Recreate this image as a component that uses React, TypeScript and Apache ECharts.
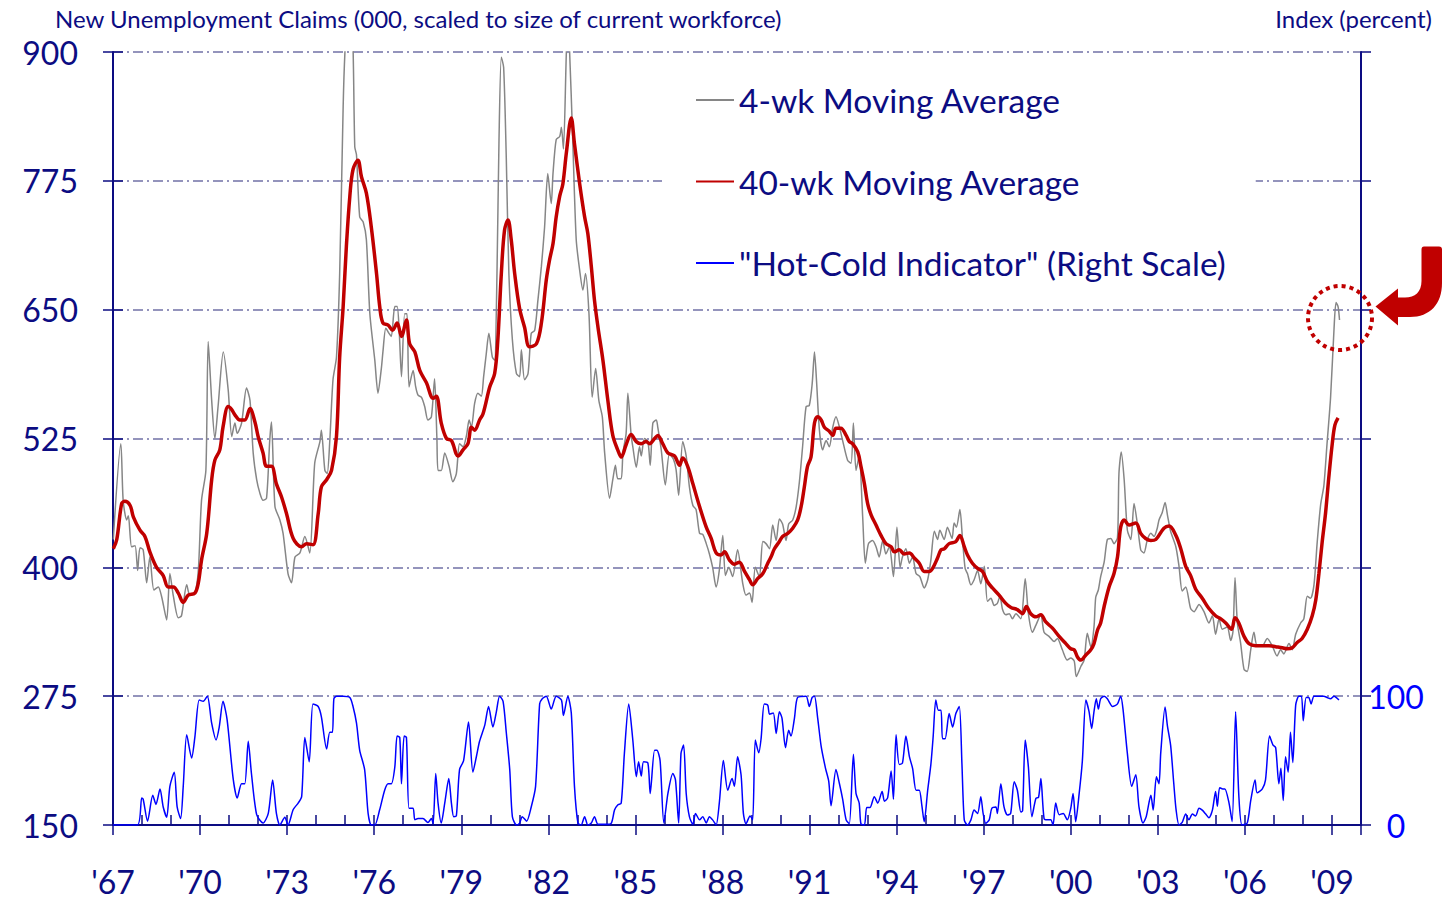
import React, { useEffect, useRef } from 'react';
import * as echarts from 'echarts';

// ---------- DATA ----------
const seriesNames = ['4-wk Moving Average', '40-wk Moving Average', '"Hot-Cold Indicator" (Right Scale)'];
const leftTitle = 'New Unemployment Claims (000, scaled to size of current workforce)';
const rightTitle = 'Index (percent)';

const yearRange = [1967, 2010];
const leftScale = { min: 150, max: 900, interval: 125 };
const rightScale = { min: 0, max: 600, interval: 100 };
const rightLabelMax = 100;

// [year, thousands]
const fourWeekAvg: [number, number][] = [
[1967.01,427],[1967.27,520],[1967.35,465],[1967.47,446],[1967.53,450],[1967.64,420],[1967.76,421],[1967.85,397],[1967.93,419],[1968.04,417],[1968.16,385],[1968.27,410],[1968.41,378],[1968.56,381],[1968.68,371],[1968.85,349],[1968.96,394],[1969.08,372],[1969.25,351],[1969.36,353],[1969.54,383],[1969.65,373],[1969.82,375],[1969.94,397],
[1970.05,465],[1970.20,494],[1970.28,619],[1970.40,562],[1970.51,525],[1970.62,556],[1970.80,609],[1970.97,572],[1971.09,527],[1971.20,540],[1971.28,530],[1971.43,540],[1971.60,574],[1971.72,562],[1971.83,511],[1971.95,485],[1972.06,472],[1972.17,465],[1972.29,467],[1972.40,523],[1972.46,541],[1972.58,459],[1972.75,446],[1972.86,433],
[1973.03,394],[1973.15,385],[1973.27,410],[1973.44,414],[1973.61,430],[1973.78,414],[1973.95,501],[1974.13,522],[1974.18,533],[1974.30,494],[1974.38,491],[1974.47,523],[1974.58,582],[1974.70,604],[1974.81,685],[1974.93,847],[1974.99,899],[1975.06,925],[1975.16,935],[1975.26,915],[1975.33,808],[1975.39,800],[1975.50,740],[1975.62,735],[1975.73,718],[1975.85,646],
[1976.02,601],[1976.13,569],[1976.25,594],[1976.30,609],[1976.40,632],[1976.51,627],[1976.59,624],[1976.71,653],[1976.79,653],[1976.86,630],[1976.94,585],[1977.05,646],[1977.13,646],[1977.20,575],[1977.34,591],[1977.43,575],[1977.51,567],[1977.63,565],[1977.74,556],[1977.85,543],[1977.97,546],[1978.08,583],[1978.16,525],[1978.20,494],[1978.31,494],[1978.43,511],[1978.58,498],[1978.71,483],[1978.83,491],[1978.94,520],
[1979.06,517],[1979.18,528],[1979.27,543],[1979.35,536],[1979.46,559],[1979.57,569],[1979.69,566],[1979.77,585],[1979.86,607],[1979.95,627],[1980.07,604],[1980.15,601],[1980.23,685],[1980.30,815],[1980.38,895],[1980.46,885],[1980.55,798],[1980.64,685],[1980.76,621],[1980.90,588],[1981.01,585],[1981.07,611],[1981.18,582],[1981.30,588],[1981.41,627],[1981.53,630],[1981.64,659],[1981.76,692],[1981.87,730],[1981.98,782],
[1982.10,753],[1982.16,782],[1982.27,815],[1982.39,818],[1982.45,827],[1982.52,806],[1982.62,899],[1982.67,925],[1982.73,902],[1982.84,815],[1982.96,718],[1983.08,688],[1983.19,669],[1983.28,685],[1983.40,646],[1983.51,565],[1983.63,593],[1983.74,562],[1983.86,546],[1983.94,511],
[1984.11,467],[1984.22,485],[1984.31,499],[1984.39,486],[1984.51,486],[1984.57,511],[1984.68,530],[1984.74,569],[1984.85,529],[1984.91,517],[1985.03,497],[1985.14,517],[1985.20,508],[1985.31,525],[1985.43,522],[1985.51,499],[1985.60,540],[1985.72,543],[1985.77,536],[1985.89,514],
[1986.03,480],[1986.17,510],[1986.31,505],[1986.40,495],[1986.49,470],[1986.63,522],[1986.75,508],[1986.86,478],[1986.98,460],[1987.09,456],[1987.21,433],[1987.32,432],[1987.44,423],[1987.55,413],[1987.66,400],[1987.78,381],[1987.89,397],
[1988.01,431],[1988.10,392],[1988.22,400],[1988.35,391],[1988.52,417],[1988.70,384],[1988.81,373],[1988.93,375],[1989.02,366],[1989.13,400],[1989.27,391],[1989.39,425],[1989.50,423],[1989.62,418],[1989.73,441],[1989.85,426],[1989.96,447],
[1990.07,442],[1990.19,426],[1990.28,442],[1990.42,446],[1990.54,459],[1990.65,483],[1990.76,517],[1990.88,556],[1990.99,557],[1991.09,578],[1991.17,609],[1991.24,581],[1991.34,533],[1991.45,514],[1991.57,523],[1991.68,517],[1991.80,536],[1991.91,546],
[1992.03,536],[1992.14,523],[1992.31,504],[1992.43,501],[1992.51,540],[1992.60,494],[1992.71,508],[1992.83,449],[1992.92,404],[1993.03,423],[1993.17,426],[1993.29,420],[1993.40,410],[1993.52,426],[1993.63,413],[1993.75,420],[1993.89,391],
[1994.01,439],[1994.12,400],[1994.20,410],[1994.32,418],[1994.44,404],[1994.55,410],[1994.67,394],[1994.80,391],[1994.95,380],[1995.07,388],[1995.18,407],[1995.30,435],[1995.41,427],[1995.49,436],[1995.64,427],[1995.75,439],[1995.91,428],[1995.98,443],
[1996.06,439],[1996.18,456],[1996.27,427],[1996.36,399],[1996.44,394],[1996.56,383],[1996.67,388],[1996.79,397],[1996.90,384],[1997.02,401],[1997.13,367],[1997.25,370],[1997.36,363],[1997.47,365],[1997.56,372],[1997.65,359],[1997.76,354],[1997.88,355],[1997.99,350],
[1998.11,355],[1998.28,350],[1998.43,389],[1998.54,355],[1998.68,337],[1998.80,344],[1998.97,354],[1999.08,337],[1999.25,333],[1999.43,328],[1999.54,331],[1999.71,320],[1999.88,310],
[2000.00,312],[2000.12,309],[2000.19,294],[2000.35,304],[2000.46,310],[2000.57,336],[2000.69,323],[2000.80,342],[2000.86,371],[2000.95,378],[2001.03,391],[2001.15,405],[2001.26,427],[2001.38,428],[2001.49,423],[2001.61,429],[2001.66,491],[2001.74,512],[2001.84,485],[2001.95,436],
[2002.07,427],[2002.18,462],[2002.29,443],[2002.41,417],[2002.52,414],[2002.64,427],[2002.76,433],[2002.87,430],[2002.98,438],[2003.04,446],[2003.15,453],[2003.25,463],[2003.33,451],[2003.44,435],[2003.62,420],[2003.73,401],[2003.84,377],[2003.96,381],
[2004.13,360],[2004.25,357],[2004.42,364],[2004.59,357],[2004.76,346],[2004.88,353],[2004.99,335],[2005.11,350],[2005.22,340],[2005.39,342],[2005.51,329],[2005.59,338],[2005.66,390],[2005.74,346],[2005.85,327],[2005.97,301],
[2006.08,299],[2006.20,320],[2006.31,337],[2006.42,324],[2006.60,324],[2006.77,331],[2006.94,324],[2007.11,314],[2007.23,320],[2007.34,316],[2007.52,326],[2007.63,320],[2007.75,335],[2007.92,346],
[2008.03,350],[2008.15,372],[2008.26,370],[2008.38,383],[2008.49,424],[2008.61,461],[2008.72,479],[2008.83,520],[2008.95,564],[2009.07,631],[2009.14,657],[2009.21,653],[2009.26,640]
];

// [year, thousands]
const fortyWeekAvg: [number, number][] = [
[1967.01,418],[1967.13,427],[1967.30,462],[1967.41,464],[1967.59,460],[1967.70,449],[1967.93,436],[1968.10,430],[1968.27,415],[1968.50,400],[1968.73,392],[1968.90,381],[1969.08,381],[1969.25,375],[1969.42,366],[1969.59,373],[1969.82,375],[1969.94,385],
[1970.05,407],[1970.23,433],[1970.40,485],[1970.51,504],[1970.68,514],[1970.79,536],[1970.97,556],[1971.09,553],[1971.20,548],[1971.37,543],[1971.54,543],[1971.72,554],[1971.89,541],[1972.00,527],[1972.17,511],[1972.29,498],[1972.46,498],[1972.63,481],[1972.81,468],[1972.98,452],
[1973.21,428],[1973.50,420],[1973.67,423],[1973.89,422],[1974.07,452],[1974.18,478],[1974.36,485],[1974.53,494],[1974.70,527],[1974.81,604],[1974.93,653],[1975.04,711],[1975.16,760],[1975.27,786],[1975.44,795],[1975.56,779],[1975.73,763],[1975.90,730],
[1976.08,685],[1976.19,653],[1976.30,637],[1976.48,635],[1976.63,630],[1976.79,637],[1976.94,624],[1977.11,640],[1977.22,617],[1977.40,609],[1977.57,591],[1977.80,579],[1978.03,564],[1978.14,566],[1978.31,540],[1978.49,525],[1978.66,523],[1978.89,508],
[1979.06,514],[1979.23,520],[1979.35,536],[1979.46,533],[1979.63,543],[1979.75,549],[1979.98,575],[1980.15,588],[1980.26,621],[1980.38,685],[1980.49,727],[1980.61,737],[1980.72,718],[1980.84,685],[1981.01,651],[1981.18,633],[1981.35,614],[1981.59,617],[1981.76,637],[1981.93,679],
[1982.04,698],[1982.16,714],[1982.27,740],[1982.39,760],[1982.50,772],[1982.62,802],[1982.79,836],[1982.90,811],[1983.08,772],[1983.25,740],[1983.36,724],[1983.48,692],[1983.59,659],[1983.71,633],[1983.88,601],
[1984.05,562],[1984.22,528],[1984.39,514],[1984.51,507],[1984.68,519],[1984.85,529],[1985.03,522],[1985.20,520],[1985.37,522],[1985.49,520],[1985.66,525],[1985.77,528],[1985.94,520],
[1986.12,511],[1986.35,508],[1986.52,499],[1986.63,506],[1986.80,498],[1986.98,481],[1987.21,459],[1987.44,439],[1987.61,428],[1987.78,414],[1987.95,412],
[1988.07,415],[1988.24,407],[1988.41,403],[1988.58,405],[1988.76,396],[1988.93,388],[1989.04,383],[1989.21,389],[1989.39,394],[1989.56,404],[1989.67,410],[1989.79,418],[1989.96,425],
[1990.07,430],[1990.25,433],[1990.42,438],[1990.59,446],[1990.71,459],[1990.82,478],[1990.93,498],[1991.05,507],[1991.17,540],[1991.28,546],[1991.40,543],[1991.51,536],[1991.68,532],[1991.80,528],[1991.91,535],
[1992.08,535],[1992.26,528],[1992.37,522],[1992.48,520],[1992.66,512],[1992.77,498],[1992.89,481],[1993.00,462],[1993.12,451],[1993.29,441],[1993.46,431],[1993.63,423],[1993.81,420],[1993.92,415],
[1994.09,417],[1994.26,413],[1994.44,414],[1994.61,409],[1994.78,404],[1994.95,396],[1995.12,396],[1995.24,399],[1995.41,409],[1995.53,417],[1995.64,418],[1995.81,423],
[1996.04,425],[1996.18,431],[1996.33,420],[1996.44,412],[1996.61,404],[1996.79,399],[1996.96,396],[1997.13,386],[1997.30,380],[1997.53,373],[1997.76,365],[1997.94,361],
[1998.16,359],[1998.34,355],[1998.47,362],[1998.62,355],[1998.80,352],[1998.97,354],[1999.14,347],[1999.37,341],[1999.60,333],[1999.83,326],
[2000.00,321],[2000.12,320],[2000.23,313],[2000.35,310],[2000.52,315],[2000.69,320],[2000.80,326],[2000.92,339],[2001.03,346],[2001.15,362],[2001.32,381],[2001.49,394],[2001.61,410],[2001.72,439],[2001.84,446],
[2002.01,441],[2002.24,443],[2002.41,433],[2002.58,428],[2002.76,426],[2002.93,427],[2003.21,438],[2003.39,440],[2003.62,431],[2003.79,418],[2003.96,401],
[2004.13,392],[2004.30,379],[2004.53,370],[2004.76,360],[2004.99,353],[2005.17,350],[2005.34,346],[2005.54,340],[2005.66,351],[2005.79,346],[2005.97,333],
[2006.14,326],[2006.37,324],[2006.60,324],[2006.83,324],[2007.06,323],[2007.29,322],[2007.46,321],[2007.63,322],[2007.80,327],[2007.97,331],
[2008.15,340],[2008.32,353],[2008.44,368],[2008.55,394],[2008.66,424],[2008.78,453],[2008.89,487],[2009.01,520],[2009.10,538],[2009.21,545]
];

// [year, percent]
const hotColdIndicator: [number, number][] = [
[1967.00,0],[1967.84,0],[1967.99,21],[1968.04,20],[1968.19,3],[1968.37,23],[1968.48,16],[1968.62,28],[1968.73,14],[1968.85,6],[1968.96,30],[1969.11,41],[1969.21,14],[1969.33,5],[1969.42,30],[1969.54,70],[1969.71,52],[1969.82,68],[1969.97,97],
[1970.11,96],[1970.25,100],[1970.40,79],[1970.55,66],[1970.66,76],[1970.79,96],[1970.93,82],[1971.14,36],[1971.28,21],[1971.43,32],[1971.54,32],[1971.66,65],[1971.77,40],[1971.95,8],[1972.17,1.5],[1972.35,9],[1972.50,35],[1972.63,9],[1972.75,0],[1972.92,6],
[1973.03,0],[1973.21,12],[1973.38,17],[1973.50,22],[1973.61,68],[1973.76,49],[1973.89,94],[1974.07,92],[1974.18,84],[1974.36,59],[1974.47,72],[1974.56,72],[1974.61,98],[1974.70,100],[1974.93,100],[1975.16,99],[1975.27,92],[1975.39,79],[1975.50,58],[1975.67,43],[1975.79,9],[1975.90,0],
[1976.02,0],[1976.19,12],[1976.36,27],[1976.48,32],[1976.59,32],[1976.71,45],[1976.79,69],[1976.88,68],[1976.94,32],[1977.03,69],[1977.11,68],[1977.20,13],[1977.34,13],[1977.40,4],[1977.51,5],[1977.68,5],[1977.85,2],[1977.97,5],
[1978.03,1],[1978.12,40],[1978.20,17],[1978.31,1.5],[1978.43,17],[1978.57,36],[1978.66,17],[1978.74,6.5],[1978.83,7],[1978.94,43],
[1979.08,50],[1979.25,80],[1979.40,41],[1979.52,53],[1979.63,65],[1979.81,77.5],[1979.94,92],[1980.09,76],[1980.21,88],[1980.32,100],[1980.44,96],[1980.55,72],[1980.67,43],[1980.76,6.5],[1980.90,0],
[1981.01,1.5],[1981.10,6.5],[1981.25,3],[1981.41,14],[1981.56,30],[1981.70,94],[1981.79,98],[1981.93,100],[1982.10,90],[1982.27,100],[1982.45,97],[1982.52,85],[1982.67,100],[1982.79,87],[1982.90,30],
[1983.02,1.5],[1983.13,0],[1983.25,6.5],[1983.36,0],[1983.48,1.5],[1983.59,6.5],[1983.71,0.5],[1983.99,0.5],
[1984.17,1.5],[1984.28,11.6],[1984.39,15.5],[1984.51,17],[1984.62,55.6],[1984.77,94],[1984.91,66],[1985.03,37.5],[1985.11,49],[1985.20,38],[1985.28,49],[1985.43,48],[1985.51,24.5],[1985.66,58],[1985.74,58],[1985.85,50],[1985.98,1.5],
[1986.12,24.5],[1986.29,40],[1986.38,35],[1986.49,1.5],[1986.57,55.6],[1986.66,62],[1986.75,24.5],[1986.86,6.5],[1986.98,0.5],
[1987.07,9],[1987.21,4],[1987.32,6.5],[1987.44,1.5],[1987.55,6.5],[1987.66,4],[1987.78,0],[1987.89,17],
[1988.03,50],[1988.18,27],[1988.33,36],[1988.41,30],[1988.52,53],[1988.64,39],[1988.72,9],[1988.81,1],[1988.95,7],
[1989.04,4],[1989.13,66],[1989.25,56],[1989.33,67],[1989.44,94],[1989.56,93],[1989.62,86],[1989.75,87],[1989.85,71],[1989.96,88],
[1990.05,83],[1990.17,60],[1990.28,73.5],[1990.36,69],[1990.48,83],[1990.59,99],[1990.88,100],[1990.99,92],[1991.09,99],[1991.17,100],[1991.28,83],[1991.40,61],[1991.55,44],[1991.66,34],[1991.74,15],[1991.91,43],
[1992.03,32],[1992.14,20],[1992.26,4],[1992.37,1],[1992.51,55],[1992.60,24.5],[1992.71,17],[1992.77,1],[1992.89,0],[1992.97,13.5],
[1993.08,13.5],[1993.23,22],[1993.35,17],[1993.50,26],[1993.58,18.4],[1993.69,21],[1993.81,42],[1993.89,20],[1993.98,70],
[1994.09,47],[1994.20,48],[1994.32,69],[1994.44,53],[1994.55,44],[1994.67,27],[1994.78,27],[1994.87,15],[1994.95,2.5],
[1995.07,27],[1995.18,47],[1995.26,69],[1995.35,97],[1995.44,89],[1995.53,89],[1995.58,67],[1995.67,67],[1995.81,86.5],[1995.93,76],
[1996.04,86.5],[1996.16,92],[1996.25,47.6],[1996.33,4],[1996.44,0],[1996.56,4],[1996.67,11.6],[1996.79,9],[1996.90,22],[1996.98,9],
[1997.07,1.3],[1997.19,4],[1997.28,13],[1997.42,14],[1997.47,9],[1997.59,32],[1997.70,14],[1997.82,7.7],[1997.93,9],
[1998.05,33.6],[1998.16,27],[1998.28,10],[1998.34,11],[1998.43,66],[1998.54,45],[1998.66,6.5],[1998.80,20.7],[1998.89,21.5],[1998.97,36],
[1999.08,5],[1999.20,4],[1999.31,4],[1999.39,0],[1999.48,17],[1999.60,8],[1999.74,9],[1999.88,4],
[2000.00,13],[2000.08,24.5],[2000.17,2.6],[2000.29,24.5],[2000.40,50],[2000.52,97],[2000.63,88],[2000.72,75],[2000.80,88],[2000.88,98],[2000.95,90],
[2001.03,98],[2001.15,100],[2001.26,98],[2001.44,92],[2001.61,94],[2001.72,100],[2001.80,90],[2001.95,55.6],
[2002.10,30],[2002.24,39],[2002.35,14],[2002.49,1.5],[2002.60,6.5],[2002.76,23],[2002.84,11.6],[2002.95,37.5],
[2003.04,32],[2003.10,56],[2003.25,91.5],[2003.33,77],[2003.44,62],[2003.55,32],[2003.63,11.6],[2003.73,0],[2003.84,2],[2003.96,8.5],
[2004.07,4],[2004.19,8.5],[2004.30,7],[2004.42,13],[2004.53,11.5],[2004.65,8.5],[2004.76,5.6],[2004.88,11.5],[2004.99,26],
[2005.05,14.5],[2005.13,29],[2005.24,28],[2005.31,28],[2005.45,17.4],[2005.56,2.6],[2005.68,88],[2005.79,23],[2005.90,0],
[2006.08,1.5],[2006.20,19],[2006.35,35],[2006.42,25],[2006.60,28],[2006.71,35],[2006.85,69],[2006.97,62],
[2007.06,60],[2007.17,32],[2007.24,44],[2007.32,19],[2007.40,53],[2007.49,41],[2007.57,72],[2007.65,48.5],[2007.75,93],[2007.86,100],[2007.95,100],
[2008.01,81],[2008.11,99],[2008.20,99],[2008.28,94],[2008.38,100],[2008.55,100],[2008.72,100],[2008.83,99],[2008.95,98],[2009.07,100],[2009.24,97]
];

// ---------- STYLE ----------
const FONT = 'Lato, "Open Sans", "Noto Sans", sans-serif';
const NAVY = '#0c0c82';
const GRID_COLOR = '#7272a6';
const ARROW_D =
  'M1424 246.5 L1439 246.5 Q1442 246.5 1442 249.5 L1442 283 C1442 304 1430 317 1410 317 L1398 317 L1398 325.5 L1375.5 306.5 L1398 288.5 L1398 297.5 L1405 297.5 C1415 297.5 1421.5 292 1421.5 281 L1421.5 249.5 Q1421.5 246.5 1424 246.5 Z';

let shapeRegistered = false;

export default function App() {
  const ref = useRef<HTMLDivElement>(null);

  useEffect(() => {
    if (!shapeRegistered) {
      echarts.graphic.registerShape('curvedArrow', echarts.graphic.extendPath(ARROW_D, {}) as any);
      shapeRegistered = true;
    }
    const chart = echarts.init(ref.current as HTMLDivElement, null, { renderer: 'svg' });

    const tickStyle = { color: NAVY, width: 1.5 };

    chart.setOption({
      animation: false,
      backgroundColor: '#ffffff',
      textStyle: { fontFamily: FONT },
      title: [
        {
          text: leftTitle, left: 55, top: 6, padding: 0,
          textStyle: { fontSize: 24, fontWeight: 'normal', color: NAVY, fontFamily: FONT },
        },
        {
          text: rightTitle, right: 21, top: 6, padding: 0,
          textStyle: { fontSize: 24, fontWeight: 'normal', color: NAVY, fontFamily: FONT },
        },
      ],
      grid: { left: 113, right: 92, top: 52, bottom: 80, containLabel: false },
      legend: {
        orient: 'vertical',
        left: 662,
        top: 70,
        padding: [10, 30, 10, 33],
        backgroundColor: '#ffffff',
        itemWidth: 38,
        itemHeight: 14,
        itemGap: 41.5,
        selectedMode: false,
        itemStyle: { opacity: 0 },
        textStyle: { fontSize: 33.5, color: NAVY, lineHeight: 40, fontFamily: FONT },
        data: seriesNames,
      },
      xAxis: [
        {
          type: 'value', position: 'bottom',
          min: yearRange[0], max: yearRange[1], interval: 3,
          axisLine: { show: true, onZero: false, lineStyle: { color: NAVY, width: 2 } },
          axisTick: { show: true, inside: false, length: 10, lineStyle: tickStyle },
          axisLabel: {
            margin: 40, fontSize: 32, color: NAVY, fontFamily: FONT,
            formatter: (v: number) => {
              const d = Math.round(v - yearRange[0]);
              if (d % 3 !== 0 || v >= yearRange[1]) return '';
              return "'" + String(Math.round(v) % 100).padStart(2, '0');
            },
          },
          splitLine: { show: false },
        },
        {
          type: 'value', position: 'bottom',
          min: yearRange[0], max: yearRange[1], interval: 1,
          axisLine: { show: false, onZero: false },
          axisTick: { show: true, inside: true, length: 10, lineStyle: tickStyle },
          axisLabel: { show: false },
          splitLine: { show: false },
        },
      ],
      yAxis: [
        {
          type: 'value', position: 'left',
          min: leftScale.min, max: leftScale.max, interval: leftScale.interval,
          axisLine: { show: true, onZero: false, lineStyle: { color: NAVY, width: 2 } },
          axisTick: { show: true, inside: false, length: 10, lineStyle: tickStyle },
          axisLabel: { margin: 35, fontSize: 32, color: NAVY, fontFamily: FONT },
          splitLine: { show: true, lineStyle: { color: GRID_COLOR, width: 1.5, type: [10, 4, 2, 4] } },
        },
        {
          type: 'value', position: 'right',
          min: rightScale.min, max: rightScale.max, interval: rightScale.interval,
          axisLine: { show: true, onZero: false, lineStyle: { color: NAVY, width: 2 } },
          axisTick: { show: true, inside: false, length: 10, lineStyle: tickStyle },
          axisLabel: {
            margin: 35, align: 'center', fontSize: 32, color: '#0000ff', fontFamily: FONT,
            formatter: (v: number) => (v <= rightLabelMax ? String(v) : ''),
          },
          splitLine: { show: false },
        },
        {
          type: 'value', position: 'left',
          min: leftScale.min, max: leftScale.max, interval: leftScale.interval,
          axisLine: { show: false, onZero: false },
          axisTick: { show: true, inside: true, length: 10, lineStyle: tickStyle },
          axisLabel: { show: false },
          splitLine: { show: false },
        },
      ],
      series: [
        {
          name: seriesNames[0], type: 'line', xAxisIndex: 0, yAxisIndex: 0,
          data: fourWeekAvg, symbol: 'none', showSymbol: false, smooth: 0.25,
          lineStyle: { color: '#868686', width: 1.5 }, itemStyle: { color: '#868686' }, z: 2,
        },
        {
          name: seriesNames[1], type: 'line', xAxisIndex: 0, yAxisIndex: 0,
          data: fortyWeekAvg, symbol: 'none', showSymbol: false, smooth: 0.35,
          lineStyle: { color: '#c00000', width: 3.5 }, itemStyle: { color: '#c00000' }, z: 3,
        },
        {
          name: seriesNames[2], type: 'line', xAxisIndex: 0, yAxisIndex: 1,
          data: hotColdIndicator, symbol: 'none', showSymbol: false, smooth: 0.25,
          lineStyle: { color: '#0000ff', width: 1.5 }, itemStyle: { color: '#0000ff' }, z: 4,
        },
      ],
      graphic: [
        {
          type: 'circle', z: 100,
          shape: { cx: 1340, cy: 318, r: 32 },
          style: { fill: 'none', stroke: '#c00000', lineWidth: 4, lineDash: [4, 4] },
        },
        {
          type: 'curvedArrow', x: 0, y: 0, scaleX: 1, scaleY: 1, z: 100,
          style: { fill: '#c00000', stroke: 'none' },
        },
      ],
    });

    return () => chart.dispose();
  }, []);

  return (
    <div
      ref={ref}
      style={{ position: 'fixed', left: 0, top: 0, width: 1453, height: 905, background: '#fff' }}
    />
  );
}
